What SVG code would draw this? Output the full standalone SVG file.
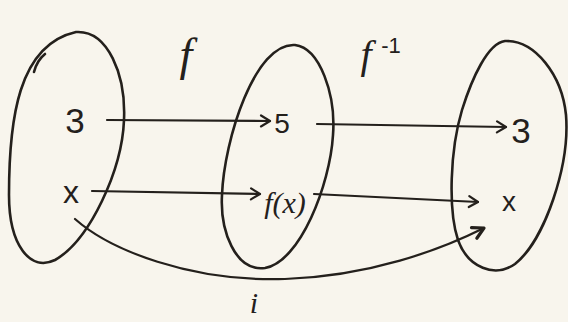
<svg xmlns="http://www.w3.org/2000/svg" width="568" height="322" viewBox="0 0 568 322">
  <defs>
    <style>
      .set { fill: none; stroke: #24201c; stroke-width: 2.6; stroke-linecap: round; stroke-linejoin: round; }
      .arrow { fill: none; stroke: #24201c; stroke-width: 2.2; stroke-linecap: round; }
      .num { font-family: "Liberation Sans", Arial, sans-serif; fill: #24201c; text-anchor: middle; }
      .scr { font-family: "Liberation Serif", "DejaVu Serif", serif; font-style: italic; fill: #24201c; text-anchor: middle; }
    </style>
    <marker id="head" viewBox="-12 -7 14 14" markerWidth="14" markerHeight="14" refX="0" refY="0" orient="auto" markerUnits="userSpaceOnUse">
      <path d="M -9 -5.5 L 0 0 L -9 5.5" fill="none" stroke="#24201c" stroke-width="2.2" stroke-linecap="round" stroke-linejoin="round"/>
    </marker>
    <marker id="headBold" viewBox="-14 -8 16 16" markerWidth="16" markerHeight="16" refX="0" refY="0" orient="auto" markerUnits="userSpaceOnUse">
      <path d="M -11 -6 L 0 0 L -11 6" fill="none" stroke="#24201c" stroke-width="3.2" stroke-linecap="round" stroke-linejoin="round"/>
    </marker>
  </defs>

  <rect x="0" y="0" width="568" height="322" fill="#f8f5ed"/>

  <g id="set-domain">
    <path class="set" d="M 76 32 C 108 30, 126 75, 124 120 C 122 170, 90 240, 55 260 C 30 272, 9 245, 9 195 C 9 120, 18 45, 76 32 Z"/>
    <path class="set" stroke-width="1.4" d="M 34 72 C 36 64, 40 58, 45 54"/>
    <text class="num" x="75" y="133" font-size="35">3</text>
    <text class="num" x="71" y="203" font-size="32">x</text>
  </g>

  <g id="set-codomain">
    <path class="set" d="M 295 45 C 320 48, 336 95, 333 135 C 330 185, 300 262, 265 268 C 235 272, 220 230, 222 195 C 224 140, 255 42, 295 45 Z"/>
    <text class="num" x="282" y="133" font-size="28">5</text>
    <text class="scr" x="285" y="213" font-size="30">f(x)</text>
  </g>

  <g id="set-domain-again">
    <path class="set" d="M 505 41 C 535 40, 562 75, 566 115 C 570 165, 545 240, 515 264 C 495 278, 468 268, 458 240 C 448 210, 450 150, 462 110 C 472 78, 488 43, 505 41 Z"/>
    <text class="num" x="521" y="143" font-size="35">3</text>
    <text class="num" x="509" y="211" font-size="28">x</text>
  </g>

  <g id="connectors">
    <path class="arrow" marker-end="url(#head)" d="M 107 120 L 270 121"/>
    <path class="arrow" marker-end="url(#head)" d="M 317 124 L 506 127"/>
    <path class="arrow" marker-end="url(#head)" d="M 92 191 L 260 194"/>
    <path class="arrow" marker-end="url(#head)" d="M 314 194 L 478 202"/>
    <path class="arrow" marker-end="url(#headBold)" d="M 75 219 C 110 250, 190 282, 285 279 C 370 276, 440 250, 484 228"/>
    <text class="scr" x="186" y="70" font-size="46">f</text>
    <text class="scr" x="366" y="68" font-size="40">f</text>
    <text class="num" x="391" y="53" font-size="22">-1</text>
    <text class="scr" x="254" y="313" font-size="30">i</text>
  </g>
</svg>
